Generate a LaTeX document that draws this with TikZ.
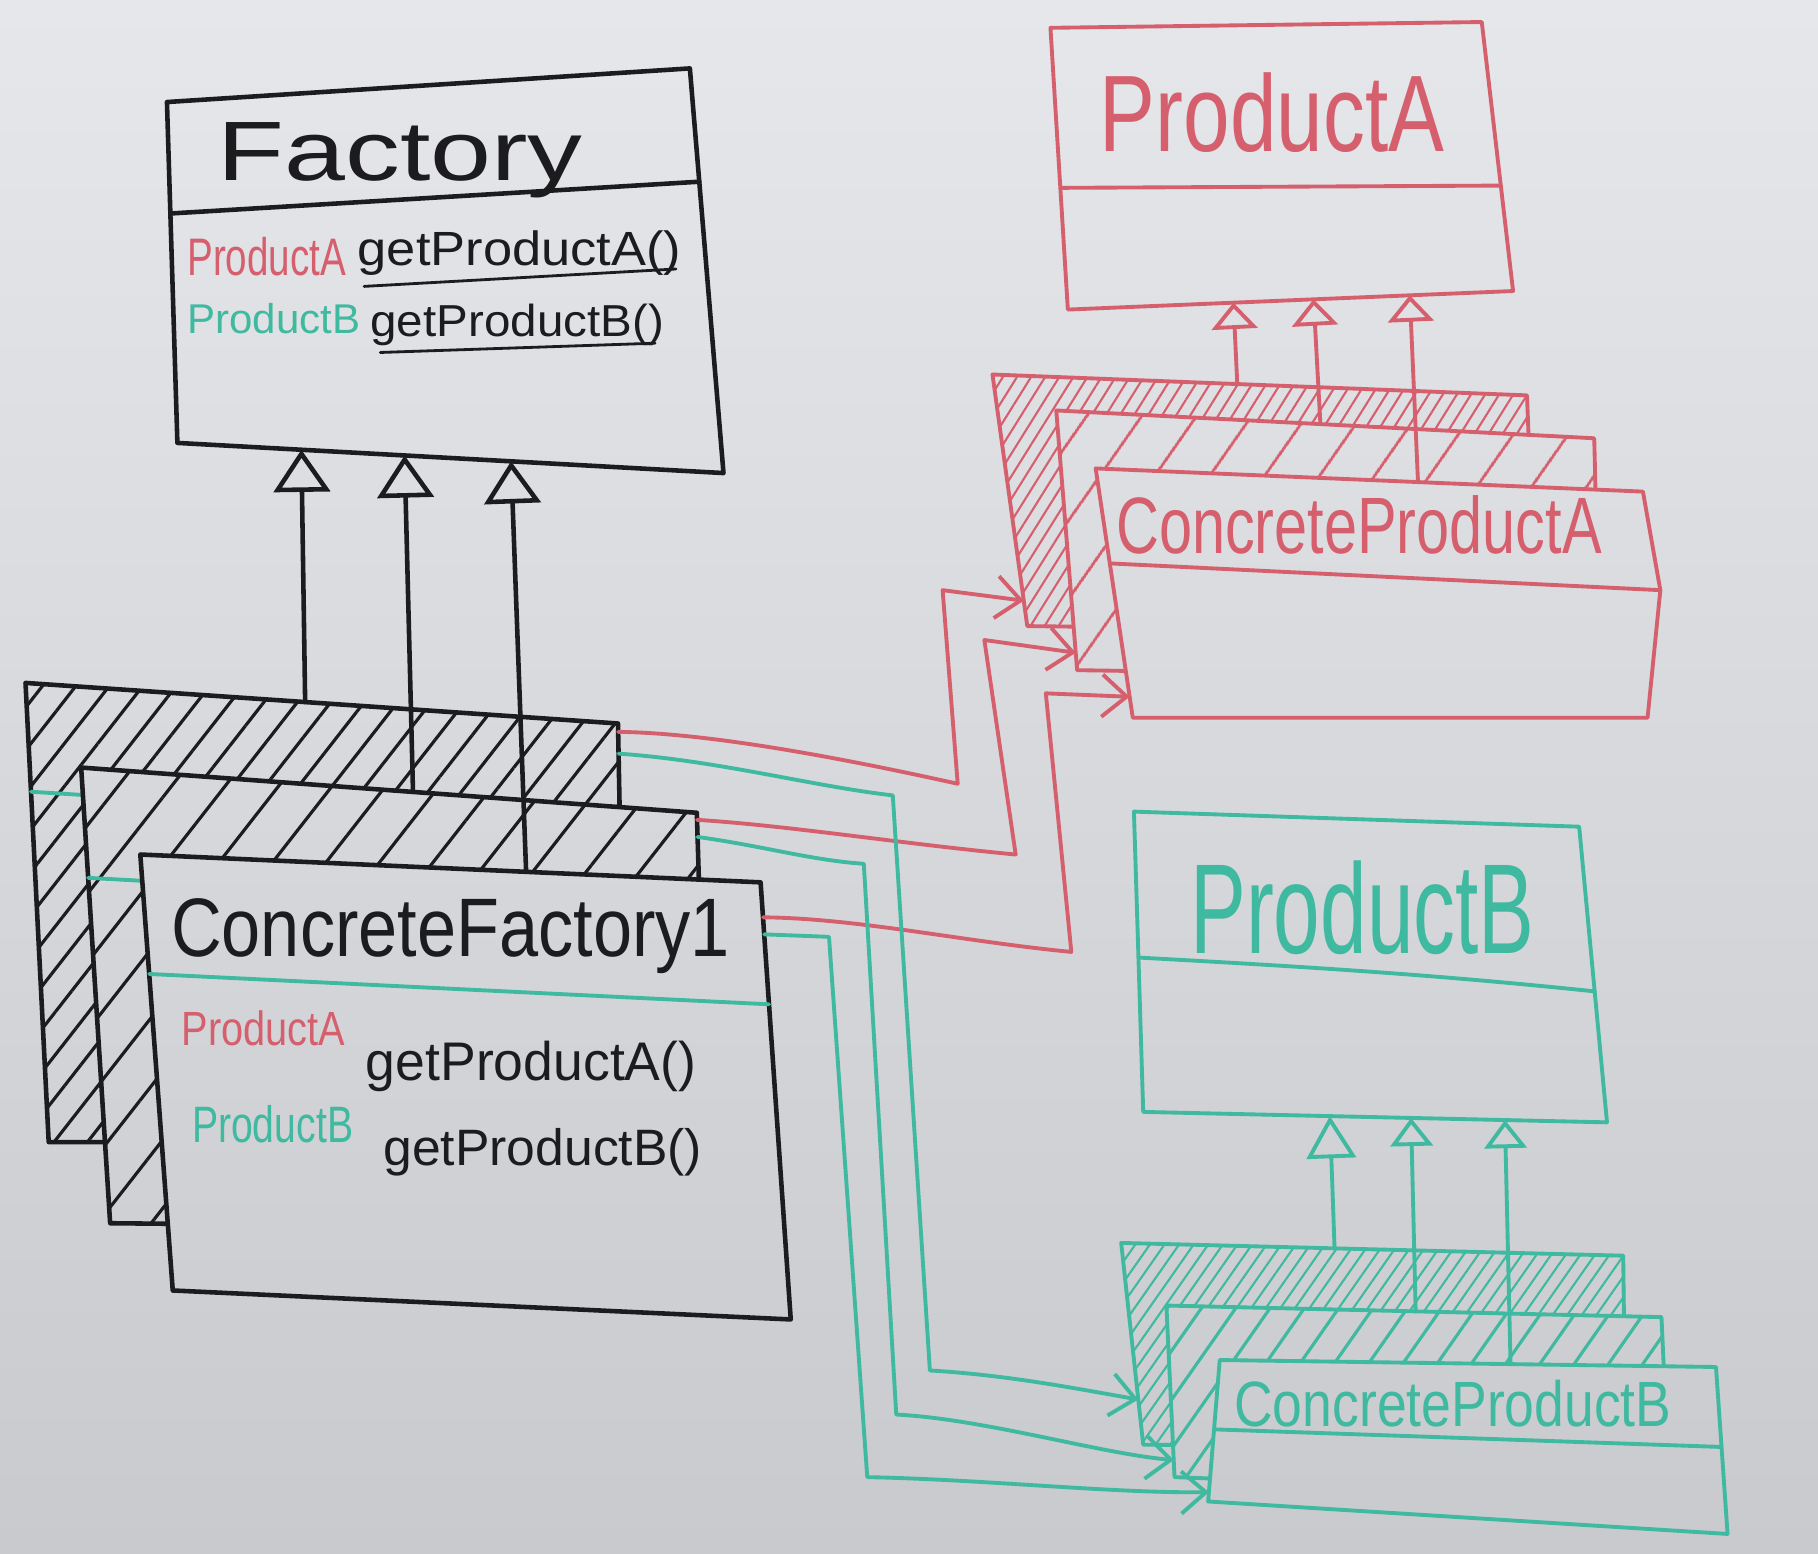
\documentclass[tikz,border=0pt]{standalone}
\usepackage{fontspec}
\usepackage{graphicx}
\setmainfont{Liberation Sans}
\usetikzlibrary{arrows.meta,patterns.meta,calc}
\definecolor{bgtop}{HTML}{E5E7EA}
\definecolor{bgbot}{HTML}{C9CACD}
\definecolor{inkk}{HTML}{1C1C1E}
\definecolor{inkr}{HTML}{D65F6E}
\definecolor{inkt}{HTML}{3FB99F}
\newdimen\pxu
\pxu=0.3299pt
\newcommand{\hw}[3]{\resizebox{#1\pxu}{#2\pxu}{#3}}
\begin{document}
\begin{tikzpicture}[x=0.011594cm,y=-0.011594cm,line join=round,line cap=round,
 kbox/.style={draw=inkk,line width=1.3pt},
 rbox/.style={draw=inkr,line width=1.1pt},
 tbox/.style={draw=inkt,line width=1.1pt},
 kline/.style={draw=inkk,line width=0.8pt},
 lbl/.style={inner sep=0pt,anchor=base west},
 kinh/.style={draw=inkk,line width=1.3pt,-{Triangle[open,length=12pt,width=16pt]}},
 rinh/.style={draw=inkr,line width=1.1pt,-{Triangle[open,length=7.5pt,width=13pt]}},
 tinh/.style={draw=inkt,line width=1.1pt,-{Triangle[open,length=8pt,width=12pt]}},
 rcon/.style={draw=inkr,line width=1.1pt,-{Straight Barb[length=7pt,width=12pt]}},
 tcon/.style={draw=inkt,line width=1.1pt,-{Straight Barb[length=7pt,width=12pt]}},
 khatchA/.style={pattern={Lines[angle=52,distance=7.5pt,line width=0.9pt]},pattern color=inkk},
 khatchB/.style={pattern={Lines[angle=52,distance=12pt,line width=0.9pt]},pattern color=inkk},
 rhatchA/.style={pattern={Lines[angle=58,distance=3.4pt,line width=0.6pt]},pattern color=inkr},
 rhatchB/.style={pattern={Lines[angle=55,distance=13pt,line width=0.9pt]},pattern color=inkr},
 thatchA/.style={pattern={Lines[angle=55,distance=3.4pt,line width=0.6pt]},pattern color=inkt},
 thatchB/.style={pattern={Lines[angle=55,distance=8pt,line width=0.9pt]},pattern color=inkt}]
\useasboundingbox (0,0) rectangle (1568,1340);
\shade[top color=bgtop,bottom color=bgbot] (0,0) rectangle (1568,1340);

% ---------------- Factory ----------------
\coordinate (F1) at (144,88); \coordinate (F2) at (595,59);
\coordinate (F3) at (624,408); \coordinate (F4) at (153,382);
\draw[kbox] (F1) -- (F2) -- (F3) -- (F4) -- cycle;
\draw[kbox] ($(F1)!0.327!(F4)$) -- ($(F2)!0.28!(F3)$);
\node[lbl,text=inkk] (tfac) at (187,156) {\hw{315}{50}{Factory}};
\node[lbl,text=inkr] (tfa1) at (161,238) {\hw{137}{33}{ProductA}};
\node[lbl,text=inkk] (tfm1) at (308,229) {\hw{279}{30}{getProductA()}};
\node[lbl,text=inkt] (tfb1) at (161,288) {\hw{149}{26}{ProductB}};
\node[lbl,text=inkk] (tfm2) at (319,290) {\hw{253}{28}{getProductB()}};
\coordinate (u1a) at (314,247); \coordinate (u1b) at (583,232);
\coordinate (u2a) at (328,304); \coordinate (u2b) at (565,296);
\draw[kline] (u1a) -- (u1b);
\draw[kline] (u2a) -- (u2b);

% ---------------- ConcreteFactory stack ----------------
\coordinate (KA1) at (22,589); \coordinate (KA2) at (533,624);
\coordinate (KA3) at (540,985); \coordinate (KA4) at (42,985);
\coordinate (KB1) at (70,662); \coordinate (KB2) at (601,701);
\coordinate (KB3) at (612,1060); \coordinate (KB4) at (95,1055);
\coordinate (KC1) at (121,737); \coordinate (KC2) at (656,761);
\coordinate (KC3) at (682,1138); \coordinate (KC4) at (149,1113);
\begin{scope}[even odd rule]
 \clip (0,0) rectangle (1568,1340) (KC1) -- (KC2) -- (KC3) -- (KC4) -- cycle;
 \begin{scope}[even odd rule]
  \clip (0,0) rectangle (1568,1340) (KB1) -- (KB2) -- (KB3) -- (KB4) -- cycle;
  \fill[khatchA] (KA1) -- (KA2) -- (KA3) -- (KA4) -- cycle;
  \draw[kbox] (KA1) -- (KA2) -- (KA3) -- (KA4) -- cycle;
  \draw[tbox] ($(KA1)!0.237!(KA4)$) -- (300,700);
 \end{scope}
 \fill[khatchB] (KB1) -- (KB2) -- (KB3) -- (KB4) -- cycle;
 \draw[kbox] (KB1) -- (KB2) -- (KB3) -- (KB4) -- cycle;
 \draw[tbox] ($(KB1)!0.242!(KB4)$) -- (400,775);
\end{scope}
\draw[kbox] (KC1) -- (KC2) -- (KC3) -- (KC4) -- cycle;
\draw[tbox] ($(KC1)!0.274!(KC4)$) -- ($(KC2)!0.279!(KC3)$);
\node[lbl,text=inkk] (tcf) at (147,825) {\hw{482}{50}{ConcreteFactory1}};
\node[lbl,text=inkr] (tca) at (156,902) {\hw{141}{30}{ProductA}};
\node[lbl,text=inkk] (tcm1) at (315,932) {\hw{285}{34}{getProductA()}};
\node[lbl,text=inkt] (tcb) at (165,985) {\hw{139}{32}{ProductB}};
\node[lbl,text=inkk] (tcm2) at (330,1005) {\hw{275}{32}{getProductB()}};

% inheritance to Factory
\draw[kinh] ($(KA1)!0.472!(KA2)$) -- ($(F4)!0.227!(F3)$);
\draw[kinh] ($(KB1)!0.539!(KB2)$) -- ($(F4)!0.416!(F3)$);
\draw[kinh] ($(KC1)!0.622!(KC2)$) -- ($(F4)!0.611!(F3)$);

% ---------------- ProductA ----------------
\coordinate (PA1) at (906,24); \coordinate (PA2) at (1278,19);
\coordinate (PA3) at (1305,251); \coordinate (PA4) at (921,267);
\draw[rbox] (PA1) -- (PA2) -- (PA3) -- (PA4) -- cycle;
\draw[rbox] ($(PA1)!0.568!(PA4)$) -- ($(PA2)!0.608!(PA3)$);
\node[lbl,text=inkr] (tpa) at (948,131) {\hw{297}{68}{ProductA}};

\coordinate (RA1) at (856,323); \coordinate (RA2) at (1317,341);
\coordinate (RA3) at (1325,545); \coordinate (RA4) at (886,540);
\coordinate (RB1) at (911,354); \coordinate (RB2) at (1375,378);
\coordinate (RB3) at (1380,585); \coordinate (RB4) at (929,578);
\coordinate (RC1) at (945,404); \coordinate (RC2) at (1417,424);
\coordinate (RC3) at (1432,509); \coordinate (RC4) at (1421,619);
\coordinate (RC5) at (977,619);
\begin{scope}[even odd rule]
 \clip (0,0) rectangle (1568,1340) (RC1) -- (RC2) -- (RC3) -- (RC4) -- (RC5) -- cycle;
 \begin{scope}[even odd rule]
  \clip (0,0) rectangle (1568,1340) (RB1) -- (RB2) -- (RB3) -- (RB4) -- cycle;
  \fill[rhatchA] (RA1) -- (RA2) -- (RA3) -- (RA4) -- cycle;
  \draw[rbox] (RA1) -- (RA2) -- (RA3) -- (RA4) -- cycle;
 \end{scope}
 \fill[rhatchB] (RB1) -- (RB2) -- (RB3) -- (RB4) -- cycle;
 \draw[rbox] (RB1) -- (RB2) -- (RB3) -- (RB4) -- cycle;
\end{scope}
\draw[rbox] (RC1) -- (RC2) -- (RC3) -- (RC4) -- (RC5) -- cycle;
\draw[rbox] ($(RC1)!0.381!(RC5)$) -- (RC3);
\node[lbl,text=inkr] (tcpa) at (962,477) {\hw{419}{50}{ConcreteProductA}};

\draw[rinh] ($(RA1)!0.458!(RA2)$) -- ($(PA4)!0.372!(PA3)$);
\draw[rinh] ($(RB1)!0.491!(RB2)$) -- ($(PA4)!0.552!(PA3)$);
\draw[rinh] ($(RC1)!0.589!(RC2)$) -- ($(PA4)!0.768!(PA3)$);

% ---------------- ProductB ----------------
\coordinate (PB1) at (978,700); \coordinate (PB2) at (1362,713);
\coordinate (PB3) at (1386,968); \coordinate (PB4) at (986,959);
\draw[tbox] (PB1) -- (PB2) -- (PB3) -- (PB4) -- cycle;
\draw[tbox] ($(PB1)!0.486!(PB4)$) .. controls (1150,835) and (1250,842) .. ($(PB2)!0.557!(PB3)$);
\node[lbl,text=inkt] (tpb) at (1026,822) {\hw{297}{80}{ProductB}};

\coordinate (BA1) at (967,1072); \coordinate (BA2) at (1400,1083);
\coordinate (BA3) at (1402,1250); \coordinate (BA4) at (986,1246);
\coordinate (BB1) at (1006,1126); \coordinate (BB2) at (1433,1136);
\coordinate (BB3) at (1440,1290); \coordinate (BB4) at (1013,1274);
\coordinate (BC1) at (1052,1173); \coordinate (BC2) at (1480,1179);
\coordinate (BC3) at (1490,1323); \coordinate (BC4) at (1042,1295);
\begin{scope}[even odd rule]
 \clip (0,0) rectangle (1568,1340) (BC1) -- (BC2) -- (BC3) -- (BC4) -- cycle;
 \begin{scope}[even odd rule]
  \clip (0,0) rectangle (1568,1340) (BB1) -- (BB2) -- (BB3) -- (BB4) -- cycle;
  \fill[thatchA] (BA1) -- (BA2) -- (BA3) -- (BA4) -- cycle;
  \draw[tbox] (BA1) -- (BA2) -- (BA3) -- (BA4) -- cycle;
 \end{scope}
 \fill[thatchB] (BB1) -- (BB2) -- (BB3) -- (BB4) -- cycle;
 \draw[tbox] (BB1) -- (BB2) -- (BB3) -- (BB4) -- cycle;
\end{scope}
\draw[tbox] (BC1) -- (BC2) -- (BC3) -- (BC4) -- cycle;
\draw[tbox] ($(BC1)!0.49!(BC4)$) -- ($(BC2)!0.479!(BC3)$);
\node[lbl,text=inkt] (tcpb) at (1064,1230) {\hw{377}{40}{ConcreteProductB}};

\draw[tinh,-{Triangle[open,length=12pt,width=14pt]}] ($(BA1)!0.425!(BA2)$) -- ($(PB4)!0.4025!(PB3)$);
\draw[tinh] ($(BB1)!0.5035!(BB2)$) -- ($(PB4)!0.5775!(PB3)$);
\draw[tinh] ($(BC1)!0.586!(BC2)$) -- ($(PB4)!0.78!(PB3)$);

% ---------------- connectors factory -> products ----------------
\coordinate (r1a) at (826,676); \coordinate (r1b) at (813,509);
\coordinate (r2a) at (876,737); \coordinate (r2b) at (849,552);
\coordinate (r3a) at (924,821); \coordinate (r3b) at (902,598);
\draw[rcon] ($(KA2)!0.02!(KA3)$) .. controls (600,632) and (700,648) .. (r1a) -- (r1b) -- ($(RA1)!0.899!(RA4)$);
\draw[rcon] ($(KB2)!0.017!(KB3)$) .. controls (680,712) and (780,728) .. (r2a) -- (r2b) -- ($(RB1)!0.933!(RB4)$);
\draw[rcon] ($(KC2)!0.08!(KC3)$) .. controls (740,792) and (830,812) .. (r3a) -- (r3b) -- ($(RC1)!0.916!(RC5)$);

\coordinate (t1a) at (770,686); \coordinate (t1c) at (802,1182);
\coordinate (t2a) at (745,745); \coordinate (t2c) at (773,1220);
\coordinate (t3a) at (715,808); \coordinate (t3c) at (748,1274);
\draw[tcon] ($(KA2)!0.072!(KA3)$) .. controls (620,656) and (700,678) .. (t1a) -- (t1c) .. controls (870,1186) and (930,1198) .. ($(BA1)!0.776!(BA4)$);
\draw[tcon] ($(KB2)!0.058!(KB3)$) .. controls (660,730) and (700,742) .. (t2a) -- (t2c) .. controls (850,1224) and (950,1254) .. ($(BB1)!0.9!(BB4)$);
\draw[tcon] ($(KC2)!0.119!(KC3)$) -- (t3a) -- (t3c) .. controls (850,1276) and (960,1288) .. ($(BC1)!0.934!(BC4)$);
\end{tikzpicture}
\end{document}
